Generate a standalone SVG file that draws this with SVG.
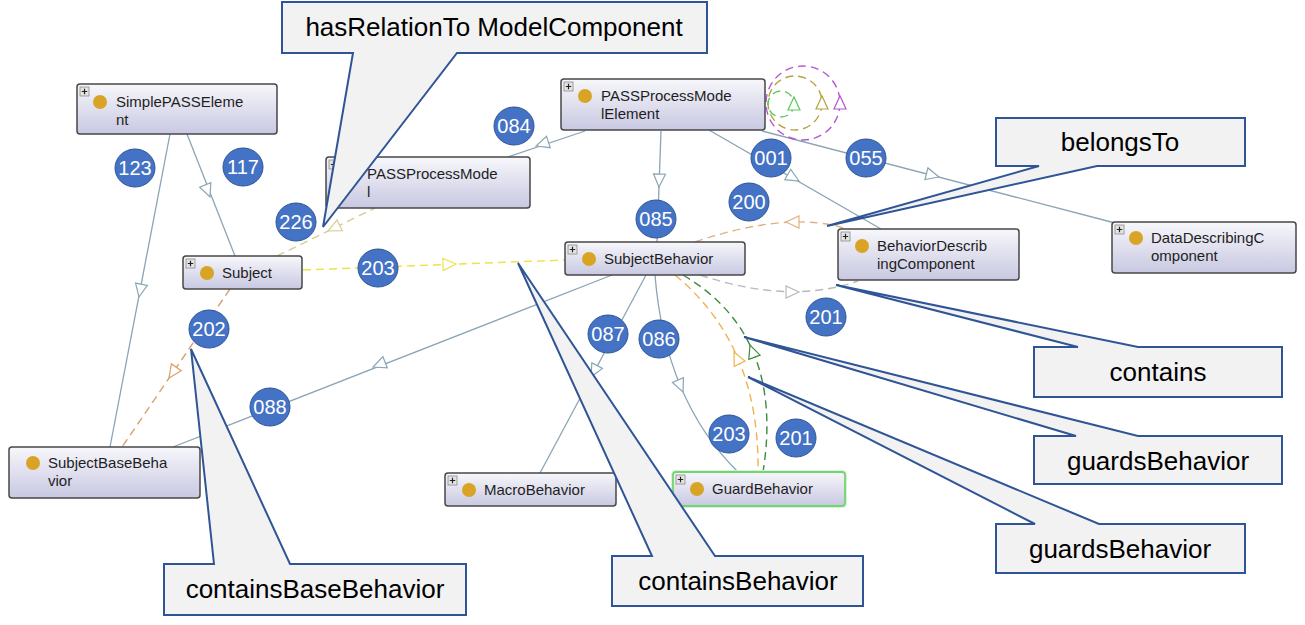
<svg xmlns="http://www.w3.org/2000/svg" xmlns:xlink="http://www.w3.org/1999/xlink" width="1305" height="625" viewBox="0 0 1305 625">
<defs>
<linearGradient id="ng" x1="0" y1="0" x2="0" y2="1">
<stop offset="0" stop-color="#f7f7fb"/>
<stop offset="1" stop-color="#c8c8e2"/>
</linearGradient>
<path id="tri" d="M0,0 L-13,-6 L-13,6 Z"/>
<g id="plus">
<rect x="0" y="0" width="9" height="9" fill="#e4e4e4" stroke="#8a8a8a" stroke-width="0.8"/>
<path d="M4.5,1.8 V7.2 M1.8,4.5 H7.2" stroke="#222" stroke-width="1.2"/>
</g>
<style>
.e{fill:none;stroke:#8aa5b5;stroke-width:1.3}
.d{fill:none;stroke-width:1.4;stroke-dasharray:8 5}
.ah{fill:#fff;stroke-width:1.2}
.nb{fill:url(#ng);stroke:#474747;stroke-width:1.5}
.ic{fill:#d9a426}
.nt{font-family:"Liberation Sans",Arial,sans-serif;font-size:15px;fill:#1e1e1e}
.bd{fill:#4472c4;stroke:#2f5597;stroke-width:1}
.bt{font-family:"Liberation Sans",Arial,sans-serif;font-size:20px;fill:#fff;text-anchor:middle}
.co{fill:#f2f2f2;stroke:#2f5597;stroke-width:2}
.ct{font-family:"Liberation Sans",Arial,sans-serif;font-size:26px;fill:#000;text-anchor:middle}
</style>
</defs>
<rect width="1305" height="625" fill="#fff"/>

<g id="connectors">
<!-- solid subclass edges -->
<path class="e" d="M170,134 L110,447"/>
<use xlink:href="#tri" class="ah" style="stroke:#8aa5b5" transform="translate(139,297) rotate(100.85)"/>
<path class="e" d="M187,134 L235,256"/>
<use xlink:href="#tri" class="ah" style="stroke:#8aa5b5" transform="translate(210,197) rotate(68.5)"/>
<path class="e" d="M585,131 L508,157"/>
<use xlink:href="#tri" class="ah" style="stroke:#8aa5b5" transform="translate(536,146) rotate(162)"/>
<path class="e" d="M661,131 L657,242"/>
<use xlink:href="#tri" class="ah" style="stroke:#8aa5b5" transform="translate(659,187) rotate(92)"/>
<path class="e" d="M709,130 L881,229"/>
<use xlink:href="#tri" class="ah" style="stroke:#8aa5b5" transform="translate(799,181) rotate(29.9)"/>
<path class="e" d="M762,131 L1115,223"/>
<use xlink:href="#tri" class="ah" style="stroke:#8aa5b5" transform="translate(939,177) rotate(14.6)"/>
<path class="e" d="M612,275 L173,447"/>
<use xlink:href="#tri" class="ah" style="stroke:#8aa5b5" transform="translate(373,367) rotate(158.6)"/>
<path class="e" d="M646,275 L540,473"/>
<use xlink:href="#tri" class="ah" style="stroke:#8aa5b5" transform="translate(591,377) rotate(118.2)"/>
<path class="e" d="M655,275 Q665,400 738,472"/>
<use xlink:href="#tri" class="ah" style="stroke:#8aa5b5" transform="translate(683,392) rotate(67)"/>
<!-- self loops -->
<circle class="d" cx="803" cy="103" r="37" style="stroke:#b455d4"/>
<use xlink:href="#tri" class="ah" style="stroke:#b455d4" transform="translate(840,96) rotate(-90)"/>
<circle class="d" cx="795" cy="103" r="27" style="stroke:#b4a441"/>
<use xlink:href="#tri" class="ah" style="stroke:#b4a441" transform="translate(822,96) rotate(-90)"/>
<circle class="d" cx="781" cy="104" r="13" style="stroke:#5cc85c"/>
<use xlink:href="#tri" class="ah" style="stroke:#5cc85c" transform="translate(794,97) rotate(-90)"/>
<!-- dashed object property edges -->
<path class="d" d="M277,256 L375,208" style="stroke:#d8cc96"/>
<use xlink:href="#tri" class="ah" style="stroke:#d8cc96" transform="translate(328,231) rotate(153.9)"/>
<path class="d" d="M303,270 L565,260" style="stroke:#efe14a"/>
<use xlink:href="#tri" class="ah" style="stroke:#efe14a" transform="translate(456,264) rotate(-2.2)"/>
<path class="d" d="M230,289 L122,447" style="stroke:#d9a06c"/>
<use xlink:href="#tri" class="ah" style="stroke:#d9a06c" transform="translate(169,378) rotate(124.4)"/>
<path class="d" d="M695,242 Q790,210 847,229" style="stroke:#e0b282"/>
<use xlink:href="#tri" class="ah" style="stroke:#e0b282" transform="translate(786,222) rotate(180)"/>
<path class="d" d="M700,275 Q790,305 858,281" style="stroke:#b9b9b9"/>
<use xlink:href="#tri" class="ah" style="stroke:#b9b9b9" transform="translate(799,292) rotate(0)"/>
<path class="d" d="M675,275 Q760,345 758,472" style="stroke:#f0b24e"/>
<use xlink:href="#tri" class="ah" style="stroke:#f0b24e" transform="translate(734,352) rotate(-115.6)"/>
<path class="d" d="M683,275 Q785,335 763,472" style="stroke:#3e8a3e"/>
<use xlink:href="#tri" class="ah" style="stroke:#3e8a3e" transform="translate(750,345) rotate(-110)"/>
</g>

<g id="node-SimplePASSElement">
<rect class="nb" x="77" y="84" width="200" height="50" rx="3"/>
<use xlink:href="#plus" x="80" y="87"/>
<circle class="ic" cx="100" cy="102" r="7"/>
<text class="nt" x="116" y="107">SimplePASSEleme</text>
<text class="nt" x="116" y="125">nt</text>
</g>
<g id="node-PASSProcessModelElement">
<rect class="nb" x="561" y="79" width="204" height="51" rx="3"/>
<use xlink:href="#plus" x="564" y="82"/>
<circle class="ic" cx="585" cy="96" r="7"/>
<text class="nt" x="601" y="101">PASSProcessMode</text>
<text class="nt" x="601" y="119">lElement</text>
</g>
<g id="node-PASSProcessModel">
<rect class="nb" x="326" y="157" width="204" height="51" rx="3"/>
<use xlink:href="#plus" x="329" y="160"/>
<circle class="ic" cx="350" cy="174" r="7"/>
<text class="nt" x="367" y="179">PASSProcessMode</text>
<text class="nt" x="367" y="197">l</text>
</g>
<g id="node-Subject">
<rect class="nb" x="183" y="256" width="119" height="33" rx="3"/>
<use xlink:href="#plus" x="186" y="259"/>
<circle class="ic" cx="207" cy="273" r="7"/>
<text class="nt" x="222" y="278">Subject</text>
</g>
<g id="node-SubjectBehavior">
<rect class="nb" x="565" y="242" width="180" height="33" rx="3"/>
<use xlink:href="#plus" x="568" y="245"/>
<circle class="ic" cx="589" cy="259" r="7"/>
<text class="nt" x="604" y="264">SubjectBehavior</text>
</g>
<g id="node-BehaviorDescribingComponent">
<rect class="nb" x="838" y="229" width="181" height="51" rx="3"/>
<use xlink:href="#plus" x="841" y="232"/>
<circle class="ic" cx="862" cy="246" r="7"/>
<text class="nt" x="877" y="251">BehaviorDescrib</text>
<text class="nt" x="877" y="269">ingComponent</text>
</g>
<g id="node-DataDescribingComponent">
<rect class="nb" x="1112" y="222" width="184" height="51" rx="3"/>
<use xlink:href="#plus" x="1115" y="225"/>
<circle class="ic" cx="1136" cy="238" r="7"/>
<text class="nt" x="1151" y="243">DataDescribingC</text>
<text class="nt" x="1151" y="261">omponent</text>
</g>
<g id="node-SubjectBaseBehavior">
<rect class="nb" x="9" y="447" width="191" height="51" rx="3"/>
<circle class="ic" cx="33" cy="463" r="7"/>
<text class="nt" x="48" y="468">SubjectBaseBeha</text>
<text class="nt" x="48" y="486">vior</text>
</g>
<g id="node-MacroBehavior">
<rect class="nb" x="445" y="473" width="171" height="33" rx="3"/>
<use xlink:href="#plus" x="448" y="476"/>
<circle class="ic" cx="469" cy="490" r="7"/>
<text class="nt" x="484" y="495">MacroBehavior</text>
</g>
<g id="node-GuardBehavior">
<rect x="673" y="472" width="172" height="34" rx="3" fill="none" stroke="#d6f3d6" stroke-width="4"/>
<rect class="nb" x="673" y="472" width="172" height="34" rx="3" style="stroke:#72d472;stroke-width:1.8"/>
<use xlink:href="#plus" x="676" y="475"/>
<circle class="ic" cx="697" cy="489" r="7"/>
<text class="nt" x="712" y="494">GuardBehavior</text>
</g>

<g id="badges">
<ellipse class="bd" cx="135" cy="168" rx="20" ry="19"/><text class="bt" x="135" y="175">123</text>
<ellipse class="bd" cx="243" cy="167" rx="20" ry="19"/><text class="bt" x="243" y="174">117</text>
<ellipse class="bd" cx="296" cy="222" rx="20" ry="19"/><text class="bt" x="296" y="229">226</text>
<ellipse class="bd" cx="514" cy="126" rx="20" ry="19"/><text class="bt" x="514" y="133">084</text>
<ellipse class="bd" cx="656" cy="219" rx="20" ry="19"/><text class="bt" x="656" y="226">085</text>
<ellipse class="bd" cx="771" cy="158" rx="20" ry="19"/><text class="bt" x="771" y="165">001</text>
<ellipse class="bd" cx="866" cy="158" rx="20" ry="19"/><text class="bt" x="866" y="165">055</text>
<ellipse class="bd" cx="749" cy="202" rx="20" ry="19"/><text class="bt" x="749" y="209">200</text>
<ellipse class="bd" cx="378" cy="268" rx="20" ry="19"/><text class="bt" x="378" y="275">203</text>
<ellipse class="bd" cx="209" cy="329" rx="20" ry="19"/><text class="bt" x="209" y="336">202</text>
<ellipse class="bd" cx="270" cy="407" rx="20" ry="19"/><text class="bt" x="270" y="414">088</text>
<ellipse class="bd" cx="608" cy="334" rx="20" ry="19"/><text class="bt" x="608" y="341">087</text>
<ellipse class="bd" cx="659" cy="339" rx="20" ry="19"/><text class="bt" x="659" y="346">086</text>
<ellipse class="bd" cx="826" cy="317" rx="20" ry="19"/><text class="bt" x="826" y="324">201</text>
<ellipse class="bd" cx="729" cy="434" rx="20" ry="19"/><text class="bt" x="729" y="441">203</text>
<ellipse class="bd" cx="796" cy="438" rx="20" ry="19"/><text class="bt" x="796" y="445">201</text>
</g>

<g id="callouts">
<path class="co" d="M282,2 H707 V53 H457 L323,227 L353,53 H282 Z"/>
<text class="ct" x="494" y="36">hasRelationTo ModelComponent</text>
<path class="co" d="M996,118 H1245 V166 H1097 L827,226 L1039,166 H996 Z"/>
<text class="ct" x="1120" y="151">belongsTo</text>
<path class="co" d="M1034,347 H1078 L836,285 L1138,347 H1282 V397 H1034 Z"/>
<text class="ct" x="1158" y="381">contains</text>
<path class="co" d="M1034,436 H1076 L744,337 L1138,436 H1282 V484 H1034 Z"/>
<text class="ct" x="1158" y="470">guardsBehavior</text>
<path class="co" d="M996,524 H1035 L748,377 L1099,524 H1245 V573 H996 Z"/>
<text class="ct" x="1120" y="558">guardsBehavior</text>
<path class="co" d="M612,556 H652 L518,263 L715,556 H863 V606 H612 Z"/>
<text class="ct" x="738" y="590">containsBehavior</text>
<path class="co" d="M164,564 H214 L191,349 L290,564 H466 V615 H164 Z"/>
<text class="ct" x="315" y="598">containsBaseBehavior</text>
</g>
</svg>
